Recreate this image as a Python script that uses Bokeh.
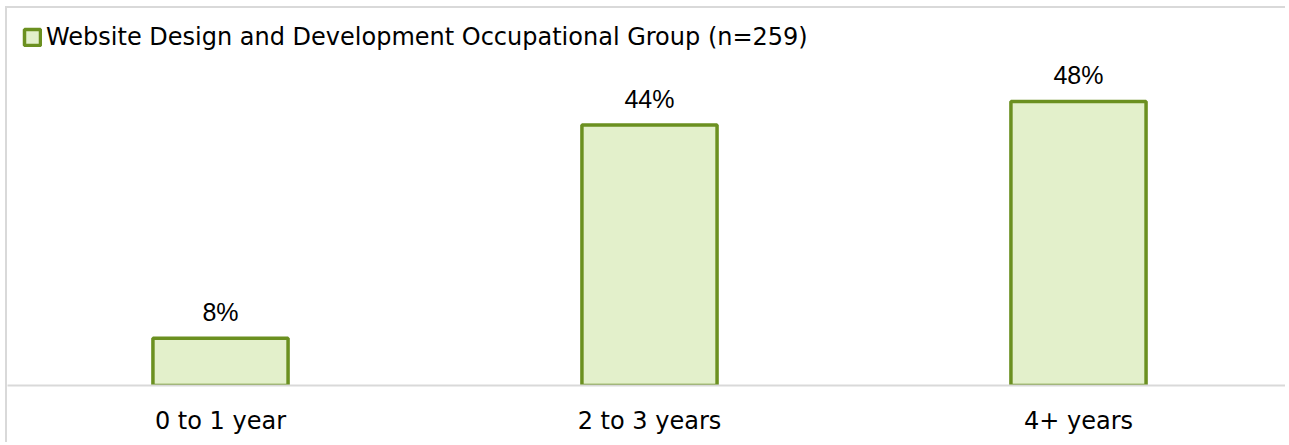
from bokeh.plotting import figure
from bokeh.models import ColumnDataSource, LabelSet, Range1d, FixedTicker, Legend, LegendItem
from bokeh.core.properties import value
from bokeh.embed import file_html
from bokeh.resources import INLINE

# ---- data ----
categories = ["0 to 1 year", "2 to 3 years", "4+ years"]
values = [8, 44, 48]
value_labels = ["8%", "44%", "48%"]
series_name = "Website Design and Development Occupational Group (n=259)"

positions = [i + 0.5 for i in range(len(categories))]
src = ColumnDataSource(dict(x=positions, top=values, lab=value_labels))

W, H = 1280, 436
p = figure(width=W, height=H, output_backend="svg", toolbar_location=None,
           x_range=Range1d(0.0035, 2.9872), y_range=Range1d(0, 63.7),
           min_border_left=0, min_border_right=0, min_border_top=0, min_border_bottom=59,
           tools="")
p.styles = {"border-left": "2px solid #d9d9d9", "border-top": "2px solid #d9d9d9",
            "margin-left": "5px", "margin-top": "6px"}
p.outline_line_color = None
p.background_fill_color = "white"
p.border_fill_color = "white"
p.grid.visible = False
p.yaxis.visible = False

r = p.vbar(x="x", top="top", bottom=0, width=0.315, source=src,
           fill_color="#e3f0cb", line_color="#6b9020", line_width=3.5)

xa = p.xaxis[0]
xa.ticker = FixedTicker(ticks=positions)
xa.major_label_overrides = {pos: c for pos, c in zip(positions, categories)}
xa.axis_line_color = "#d9d9d9"
xa.axis_line_width = 2
xa.major_tick_line_color = None
xa.minor_tick_line_color = None
xa.major_label_standoff = 15
xa.major_label_text_font = "DejaVu Sans"
xa.major_label_text_font_size = "24px"
xa.major_label_text_color = "#000000"

labels = LabelSet(x="x", y="top", text="lab", source=src, text_align="center",
                  text_baseline="alphabetic", y_offset=17,
                  text_font=value("Liberation Sans"), text_font_size=value("25px"),
                  text_color="#000000")
p.add_layout(labels)

legend = Legend(items=[LegendItem(label=series_name, renderers=[r])],
                location="top_left", margin=15, padding=0,
                glyph_width=20, glyph_height=20, label_standoff=4,
                label_text_font="DejaVu Sans", label_text_font_size="24px",
                label_text_color="#000000", border_line_color=None,
                background_fill_alpha=0)
p.add_layout(legend)

open("out.html", "w").write(file_html(p, INLINE))
